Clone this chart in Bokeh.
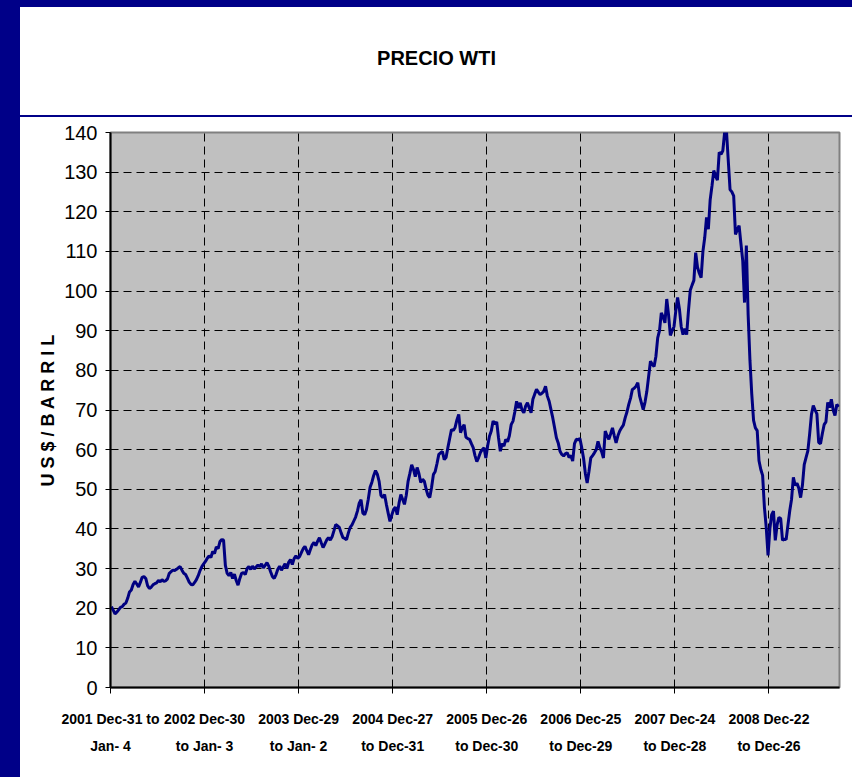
import numpy as np
from bokeh.plotting import figure
from bokeh.layouts import row, column
from bokeh.models import Range1d, FixedTicker, Label, Spacer
from bokeh.embed import file_html
from bokeh.resources import INLINE

# Weekly WTI spot price (US$/barril)
price_2002 = [20.4, 19.5, 18.6, 19.0, 19.6, 20.2, 20.4, 21.0, 21.3, 22.5, 24.1, 24.6, 26.0,
              26.8, 26.1, 25.4, 26.5, 27.8, 28.0, 27.5, 25.7, 25.0, 25.3, 25.9, 26.2, 26.4,
              27.0, 26.7, 27.2, 26.8, 26.9, 27.4, 28.8, 29.2, 29.6, 29.5, 29.8, 30.2, 30.5,
              29.6, 28.8, 28.5, 27.6, 26.6, 26.0, 25.9, 26.5, 27.2, 28.2, 29.5, 30.5, 31.2]
price_2003 = [31.8, 32.6, 33.2, 32.8, 34.3, 33.8, 35.5, 35.0, 36.8, 37.3, 37.2, 30.8, 28.8,
              28.2, 29.0, 27.5, 28.6, 27.0, 25.8, 27.5, 28.8, 29.0, 28.5, 30.0, 30.5, 29.8,
              30.6, 29.9, 30.4, 30.9, 30.5, 31.2, 30.2, 30.8, 31.5, 30.6, 29.2, 28.0, 27.5,
              28.5, 29.8, 30.6, 29.6, 30.4, 31.2, 30.0, 31.6, 32.3, 31.0, 32.5, 33.2, 32.6]
price_2004 = [33.0, 34.0, 35.0, 35.6, 34.5, 33.5, 34.8, 36.0, 36.6, 35.8, 36.9, 37.8, 36.5,
              35.3, 36.2, 37.2, 37.8, 37.2, 38.0, 39.5, 41.1, 40.8, 40.4, 39.0, 37.8, 37.6,
              37.3, 39.0, 40.4, 41.0, 42.0, 43.0, 44.5, 46.5, 47.4, 44.0, 43.6, 44.9, 47.5,
              50.5, 51.8, 53.5, 54.7, 53.8, 52.0, 48.5, 47.9, 48.7, 46.2, 44.0, 41.9, 43.5]
price_2005 = [44.9, 45.5, 43.6, 46.5, 48.7, 47.5, 46.2, 48.5, 52.0, 54.0, 56.2, 55.0, 53.2,
              55.5, 54.0, 51.7, 52.5, 52.0, 50.0, 48.5, 47.9, 50.5, 53.7, 54.5, 56.5, 58.8,
              59.2, 59.5, 57.5, 58.0, 60.5, 62.8, 65.1, 64.8, 65.6, 67.5, 68.9, 64.3, 65.5,
              66.3, 63.1, 62.8, 62.6, 61.5, 60.5, 58.5, 57.0, 58.0, 59.3, 60.0, 60.5, 57.9]
price_2006 = [61.0, 63.4, 64.7, 67.2, 66.5, 67.0, 63.0, 59.6, 61.5, 60.9, 62.6, 62.0, 63.5,
              66.3, 67.2, 69.5, 72.2, 70.5, 71.8, 70.0, 69.3, 71.0, 71.8, 70.5, 69.3, 72.7,
              74.0, 75.2, 74.5, 73.9, 74.2, 74.7, 76.0, 73.5, 72.2, 70.1, 68.0, 65.5, 63.0,
              61.7, 59.6, 58.8, 58.4, 59.0, 59.2, 58.0, 58.5, 57.1, 61.5, 62.6, 62.5, 62.8]
price_2007 = [60.5, 57.9, 54.0, 51.6, 54.5, 57.9, 58.5, 59.2, 60.0, 62.1, 60.5, 59.5, 57.9,
              64.7, 63.5, 62.6, 64.0, 65.5, 63.5, 61.7, 63.5, 64.7, 65.5, 66.2, 68.0, 69.5,
              71.4, 73.0, 75.2, 75.5, 76.0, 76.9, 73.5, 71.8, 70.1, 72.0, 74.7, 78.5, 82.3,
              81.5, 81.0, 83.5, 88.2, 90.0, 94.5, 93.5, 92.0, 98.0, 94.0, 88.8, 90.0, 91.0]
price_2008 = [95.0, 98.4, 95.5, 91.0, 89.0, 90.5, 89.0, 95.0, 100.2, 101.5, 102.7, 109.7, 106.0,
              104.5, 103.4, 110.0, 113.5, 118.6, 115.6, 123.0, 126.5, 130.4, 129.0, 128.0, 135.0,
              134.5, 135.4, 140.0, 140.5, 133.0, 125.6, 125.0, 124.0, 114.3, 115.5, 116.5, 112.0,
              107.7, 97.1, 111.5, 94.0, 82.5, 74.0, 67.4, 65.5, 64.8, 57.2, 55.0, 53.5, 45.4,
              40.4, 33.3]
price_2009 = [40.0, 43.6, 44.5, 37.1, 41.0, 42.9, 42.6, 37.1, 37.5, 37.3, 41.0, 44.6, 47.5,
              53.0, 51.0, 51.5, 50.3, 47.9, 51.0, 56.2, 58.0, 59.7, 64.0, 68.9, 71.1, 70.0,
              69.0, 61.8, 61.5, 64.0, 66.3, 67.0, 71.9, 70.6, 72.7, 70.0, 68.6, 71.4, 70.8]

tick_weeks = [0, 52, 104, 156, 208, 260, 312, 364]
tick_labels = ["2001 Dec-31 to\nJan- 4", "2002 Dec-30\nto Jan- 3", "2003 Dec-29\nto Jan- 2",
               "2004 Dec-27\nto Dec-31", "2005 Dec-26\nto Dec-30", "2006 Dec-25\nto Dec-29",
               "2007 Dec-24\nto Dec-28", "2008 Dec-22\nto Dec-26"]
y_ticks = list(range(0, 141, 10))

prices = (price_2002 + price_2003 + price_2004 + price_2005 + price_2006 +
          price_2007 + price_2008 + price_2009)
n_weeks = 403
weeks = np.arange(len(prices)) + 0.5

FONT = "'Liberation Sans', Arial, sans-serif"
NAVY = "#000088"


def navy_block(w, h):
    return Spacer(width=w, height=h, styles={"background-color": NAVY})


top_band = navy_block(852, 7)
left_band = navy_block(20, 770)
rule = navy_block(832, 2)

# ---- title strip (frame aligned with the chart frame) ----
HEAD_H = 108
head = figure(width=832, height=HEAD_H, title=None, output_backend="svg", toolbar_location=None,
              x_axis_type=None, y_axis_type=None,
              min_border_left=90, min_border_right=13, min_border_top=0, min_border_bottom=0,
              x_range=Range1d(110, 839), y_range=Range1d(0, HEAD_H),
              background_fill_color="white", border_fill_color="white", outline_line_color=None)
head.xgrid.visible = False
head.ygrid.visible = False
head.add_layout(Label(x=436, y=HEAD_H - 50, text="PRECIO WTI", text_align="center",
                      text_baseline="middle", text_font=FONT, text_font_style="bold",
                      text_font_size="20px", text_color="black"))

# ---- main chart ----
p = figure(width=832, height=660, title=None, output_backend="svg", toolbar_location=None,
           x_range=Range1d(0, n_weeks), y_range=Range1d(0, 140),
           min_border_left=90, min_border_right=13, min_border_top=15, min_border_bottom=90,
           background_fill_color="#C0C0C0", border_fill_color="white",
           outline_line_color="#808080", outline_line_width=2)

p.line(weeks, prices, line_color="#000080", line_width=3)

p.xaxis.ticker = FixedTicker(ticks=tick_weeks)
p.xaxis.major_label_overrides = {w: lab for w, lab in zip(tick_weeks, tick_labels)}
p.xaxis.major_tick_out = 6
p.xaxis.major_tick_in = 0
p.xaxis.minor_tick_line_color = None
p.xaxis.axis_line_color = "black"
p.xaxis.axis_line_width = 2
p.xaxis.major_tick_line_color = "black"
p.xaxis.major_label_text_font = FONT
p.xaxis.major_label_text_font_style = "bold"
p.xaxis.major_label_text_font_size = "14px"
p.xaxis.major_label_text_color = "black"
p.xaxis.major_label_text_line_height = 1.7
p.xaxis.major_label_standoff = 17

p.yaxis.ticker = FixedTicker(ticks=y_ticks)
p.yaxis.major_tick_out = 5
p.yaxis.major_tick_in = 0
p.yaxis.minor_tick_line_color = None
p.yaxis.axis_line_color = "black"
p.yaxis.axis_line_width = 2
p.yaxis.major_tick_line_color = "black"
p.yaxis.major_label_text_font = FONT
p.yaxis.major_label_text_font_size = "20px"
p.yaxis.major_label_text_color = "black"
p.yaxis.major_label_standoff = 8
p.yaxis.axis_label = "U S $ / B A R R I L"
p.yaxis.axis_label_text_font = FONT
p.yaxis.axis_label_text_font_style = "bold"
p.yaxis.axis_label_text_font_size = "18px"
p.yaxis.axis_label_text_color = "black"
p.yaxis.axis_label_standoff = 3

for g in (p.xgrid, p.ygrid):
    g.grid_line_color = "black"
    g.grid_line_width = 1
    g.grid_line_dash = "8 5"

layout = column(top_band,
                row(left_band, column(head, rule, p, spacing=0), spacing=0),
                spacing=0)

open("out.html", "w").write(file_html(layout, INLINE))
